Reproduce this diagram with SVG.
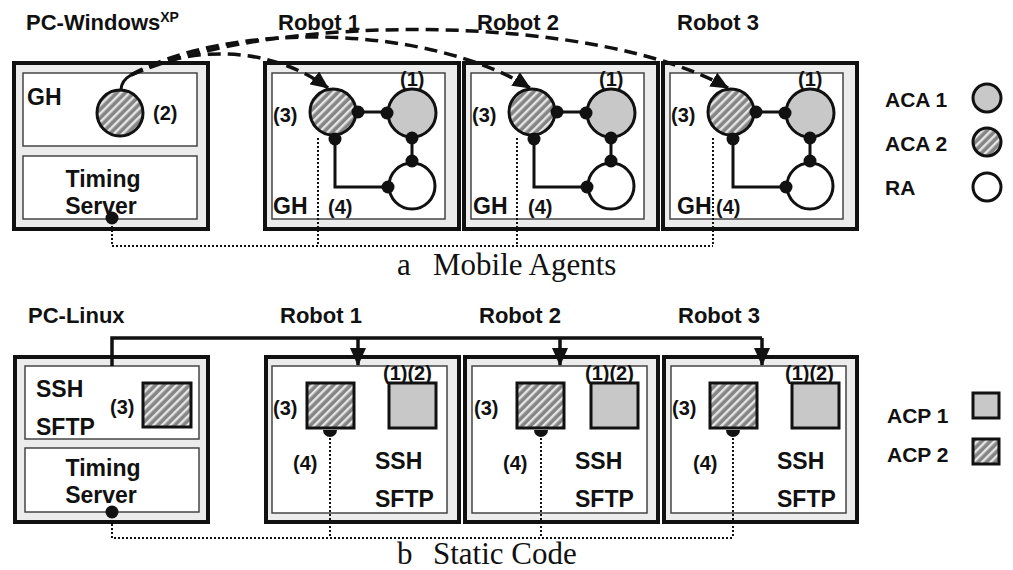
<svg xmlns="http://www.w3.org/2000/svg" width="1013" height="570" viewBox="0 0 1013 570">
<style>
.outer{fill:#ececec;stroke:#111;stroke-width:4}
.inner{fill:#fff;stroke:#444;stroke-width:1.5}
.lbl{font-family:"Liberation Sans",Arial,sans-serif;font-weight:bold;font-size:23px;fill:#111}
.ttl{font-family:"Liberation Sans",Arial,sans-serif;font-weight:bold;font-size:22px;fill:#111}
.leg{font-family:"Liberation Sans",Arial,sans-serif;font-weight:bold;font-size:21px;fill:#111}
.num{font-family:"Liberation Sans",Arial,sans-serif;font-weight:bold;font-size:20px;fill:#111}
.cap{font-family:"Liberation Serif","Times New Roman",serif;font-size:31px;fill:#111}
.g1{fill:#c8c8c8;stroke:#111;stroke-width:3}
.g2{fill:url(#hatch);stroke:#111;stroke-width:3}
.ra{fill:#fff;stroke:#111;stroke-width:3}
.wire{fill:none;stroke:#111;stroke-width:3}
.dot{fill:#111}
.dotted{fill:none;stroke:#111;stroke-width:2;stroke-dasharray:2 2}
.dashed{fill:none;stroke:#111;stroke-width:3.5;stroke-dasharray:13 7}
.bus{fill:none;stroke:#111;stroke-width:3.5}
</style>
<defs>
<pattern id="hatch" width="6" height="6" patternUnits="userSpaceOnUse" patternTransform="rotate(45)">
<rect width="6" height="6" fill="#858585"/>
<rect width="2.4" height="6" fill="#e6e6e6"/>
</pattern>
<marker id="arr" markerUnits="userSpaceOnUse" markerWidth="18" markerHeight="16" refX="17" refY="8" orient="auto">
<path d="M0,0 L18,8 L0,16 z" fill="#111"/>
</marker>
</defs>

<!-- ===== Part a ===== -->
<g id="pc-windows">
<text class="ttl" x="26" y="30">PC-Windows<tspan font-size="14" dy="-8">XP</tspan></text>
<rect class="outer" x="14" y="63" width="194" height="166"/>
<rect class="inner" x="23" y="73" width="174" height="73"/>
<rect class="inner" x="23" y="156" width="174" height="63"/>
<text class="lbl" x="27" y="105">GH</text>
<circle class="g2" cx="120" cy="113" r="23"/>
<text class="num" x="153" y="120">(2)</text>
<text class="lbl" x="103" y="187" text-anchor="middle">Timing</text>
<text class="lbl" x="101" y="214" text-anchor="middle">Server</text>
<circle class="dot" cx="112" cy="218" r="6.5"/>
</g>

<g id="robot1-a">
<text class="ttl" x="278" y="30">Robot 1</text>
<rect class="outer" x="265" y="63" width="194" height="166"/>
<rect class="inner" x="272" y="73" width="173" height="146"/>
<path class="wire" d="M357,112 H387 M412,137 V161 M335,139 V187 H387"/>
<circle class="g2" cx="333" cy="112" r="23"/>
<circle class="g1" cx="412" cy="113" r="24"/>
<circle class="ra" cx="412" cy="186" r="23"/>
<circle class="dot" cx="358" cy="112" r="6.5"/>
<circle class="dot" cx="387" cy="113" r="6.5"/>
<circle class="dot" cx="412" cy="138" r="6.5"/>
<circle class="dot" cx="412" cy="161" r="6.5"/>
<circle class="dot" cx="388" cy="187" r="6.5"/>
<circle class="dot" cx="335" cy="139" r="6.5"/>
<text class="num" x="400" y="86">(1)</text>
<text class="num" x="273" y="122">(3)</text>
<text class="lbl" x="273" y="214">GH</text>
<text class="num" x="328" y="214">(4)</text>
</g>

<g id="robot2-a">
<text class="ttl" x="477" y="30">Robot 2</text>
<rect class="outer" x="464" y="63" width="194" height="166"/>
<rect class="inner" x="471" y="73" width="173" height="146"/>
<path class="wire" d="M556,112 H586 M611,137 V161 M534,139 V187 H586"/>
<circle class="g2" cx="532" cy="112" r="23"/>
<circle class="g1" cx="611" cy="113" r="24"/>
<circle class="ra" cx="611" cy="186" r="23"/>
<circle class="dot" cx="557" cy="112" r="6.5"/>
<circle class="dot" cx="586" cy="113" r="6.5"/>
<circle class="dot" cx="611" cy="138" r="6.5"/>
<circle class="dot" cx="611" cy="161" r="6.5"/>
<circle class="dot" cx="587" cy="187" r="6.5"/>
<circle class="dot" cx="534" cy="139" r="6.5"/>
<text class="num" x="599" y="86">(1)</text>
<text class="num" x="472" y="122">(3)</text>
<text class="lbl" x="473" y="214">GH</text>
<text class="num" x="528" y="214">(4)</text>
</g>

<g id="robot3-a">
<text class="ttl" x="677" y="30">Robot 3</text>
<rect class="outer" x="663" y="63" width="194" height="166"/>
<rect class="inner" x="670" y="73" width="173" height="146"/>
<path class="wire" d="M755,112 H785 M810,137 V161 M733,139 V187 H785"/>
<circle class="g2" cx="731" cy="112" r="23"/>
<circle class="g1" cx="810" cy="113" r="24"/>
<circle class="ra" cx="810" cy="186" r="23"/>
<circle class="dot" cx="756" cy="112" r="6.5"/>
<circle class="dot" cx="785" cy="113" r="6.5"/>
<circle class="dot" cx="810" cy="138" r="6.5"/>
<circle class="dot" cx="810" cy="161" r="6.5"/>
<circle class="dot" cx="786" cy="187" r="6.5"/>
<circle class="dot" cx="733" cy="139" r="6.5"/>
<text class="num" x="798" y="86">(1)</text>
<text class="num" x="671" y="122">(3)</text>
<text class="lbl" x="677" y="214">GH</text>
<text class="num" x="716" y="214">(4)</text>
</g>

<g id="legend-a">
<text class="leg" x="885" y="107">ACA 1</text>
<circle class="g1" cx="987" cy="98" r="14"/>
<text class="leg" x="885" y="151">ACA 2</text>
<circle class="g2" cx="987" cy="142" r="14"/>
<text class="leg" x="885" y="195">RA</text>
<circle class="ra" cx="987" cy="187" r="14"/>
</g>

<g id="connectors-a">
<path class="wire" d="M121,90 C121,84 124,79 131,75"/>
<path class="dashed" d="M131,75 C190,45 270,45 328,88" marker-end="url(#arr)"/>
<path class="dashed" d="M131,75 C230,20 430,25 530,88" marker-end="url(#arr)"/>
<path class="dashed" d="M131,75 C280,10 600,15 728,88" marker-end="url(#arr)"/>
<path class="dotted" d="M112,218 V246 H713 M318,138 V246 M517,138 V246 M713,138 V246"/>
</g>
<text class="cap" x="397" y="275">a</text>
<text class="cap" x="433" y="275">Mobile Agents</text>

<!-- ===== Part b ===== -->
<g id="pc-linux">
<text class="ttl" x="28" y="323">PC-Linux</text>
<rect class="outer" x="15" y="357" width="193" height="165"/>
<rect class="inner" x="25" y="366" width="174" height="73"/>
<rect class="inner" x="25" y="448" width="174" height="64"/>
<text class="lbl" x="36" y="397">SSH</text>
<text class="lbl" x="36" y="435">SFTP</text>
<text class="num" x="110" y="414">(3)</text>
<rect class="g2" x="143" y="383" width="48" height="44"/>
<text class="lbl" x="103" y="476" text-anchor="middle">Timing</text>
<text class="lbl" x="101" y="503" text-anchor="middle">Server</text>
<circle class="dot" cx="112" cy="512" r="6.5"/>
</g>

<g id="robot1-b">
<text class="ttl" x="280" y="323">Robot 1</text>
<rect class="outer" x="266" y="357" width="193" height="165"/>
<rect class="inner" x="272" y="366" width="175" height="147"/>
<rect class="g2" x="307" y="383" width="47" height="45"/>
<rect class="g1" x="389" y="383" width="47" height="45"/>
<path class="dot" d="M323,430 A7,7 0 0 0 337,430 z"/>
<text class="num" x="383" y="380">(1)(2)</text>
<text class="num" x="273" y="415">(3)</text>
<text class="num" x="293" y="470">(4)</text>
<text class="lbl" x="375" y="469">SSH</text>
<text class="lbl" x="375" y="507">SFTP</text>
</g>

<g id="robot2-b">
<text class="ttl" x="479" y="323">Robot 2</text>
<rect class="outer" x="465" y="357" width="193" height="165"/>
<rect class="inner" x="472" y="366" width="175" height="147"/>
<rect class="g2" x="517" y="383" width="47" height="45"/>
<rect class="g1" x="591" y="383" width="47" height="45"/>
<path class="dot" d="M534,430 A7,7 0 0 0 548,430 z"/>
<text class="num" x="585" y="380">(1)(2)</text>
<text class="num" x="474" y="415">(3)</text>
<text class="num" x="503" y="470">(4)</text>
<text class="lbl" x="575" y="469">SSH</text>
<text class="lbl" x="575" y="507">SFTP</text>
</g>

<g id="robot3-b">
<text class="ttl" x="678" y="323">Robot 3</text>
<rect class="outer" x="664" y="357" width="193" height="165"/>
<rect class="inner" x="671" y="366" width="175" height="147"/>
<rect class="g2" x="710" y="383" width="47" height="45"/>
<rect class="g1" x="792" y="383" width="47" height="45"/>
<path class="dot" d="M726,430 A7,7 0 0 0 740,430 z"/>
<text class="num" x="785" y="380">(1)(2)</text>
<text class="num" x="672" y="415">(3)</text>
<text class="num" x="693" y="470">(4)</text>
<text class="lbl" x="777" y="469">SSH</text>
<text class="lbl" x="777" y="507">SFTP</text>
</g>

<g id="legend-b">
<text class="leg" x="887" y="423">ACP 1</text>
<rect class="g1" x="973" y="393" width="26" height="25"/>
<text class="leg" x="887" y="462">ACP 2</text>
<rect class="g2" x="973" y="439" width="26" height="25"/>
</g>

<g id="connectors-b">
<path class="bus" d="M112,366 V338 H762"/>
<path class="bus" d="M358,338 V365" marker-end="url(#arr)"/>
<path class="bus" d="M560,338 V365" marker-end="url(#arr)"/>
<path class="bus" d="M762,338 V365" marker-end="url(#arr)"/>
<path class="dotted" d="M112,512 V538 H733 M330,430 V538 M541,430 V538 M733,430 V538"/>
</g>
<text class="cap" x="397" y="564">b</text>
<text class="cap" x="433" y="564">Static Code</text>
</svg>
